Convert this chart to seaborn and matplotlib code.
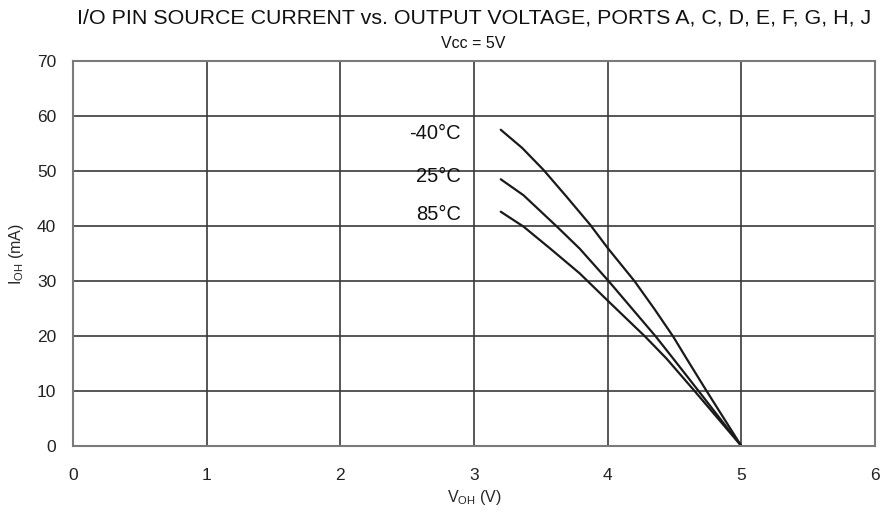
import matplotlib
matplotlib.use("Agg")
import matplotlib.pyplot as plt
import seaborn as sns
import pandas as pd

# Source current (mA) vs. output voltage (V) at three temperatures
v_m40 = [3.20, 3.36, 3.52, 3.69, 3.87, 4.00, 4.20, 4.35, 4.49, 4.59, 4.74, 5.00]
i_m40 = [57.5, 54.2, 50.2, 45.4, 40.2, 36.0, 30.0, 24.9, 19.9, 15.9, 10.0, 0.0]
v_25 = [3.20, 3.37, 3.62, 3.79, 4.01, 4.36, 4.49, 4.68, 5.00]
i_25 = [48.5, 45.6, 39.9, 35.9, 29.9, 19.9, 15.9, 10.0, 0.0]
v_85 = [3.20, 3.37, 3.57, 3.79, 4.01, 4.28, 4.44, 4.65, 5.00]
i_85 = [42.6, 39.9, 35.9, 31.4, 26.2, 19.9, 15.9, 10.0, 0.0]
temps = ["-40°C", "25°C", "85°C"]
label_y = [56.8, 49.0, 42.1]

x_ticks = [0, 1, 2, 3, 4, 5, 6]
y_ticks = [0, 10, 20, 30, 40, 50, 60, 70]

frames = []
for t, v, i in zip(temps, [v_m40, v_25, v_85], [i_m40, i_25, i_85]):
    frames.append(pd.DataFrame({"V": v, "I": i, "T": t}))
df = pd.concat(frames, ignore_index=True)

sns.set_style("white")
plt.rcParams["font.family"] = ["Liberation Sans", "DejaVu Sans"]

fig = plt.figure(figsize=(8.87, 5.18), dpi=100)
ax = fig.add_axes([0.0823, 0.139, 0.9042, 0.7432])

sns.lineplot(data=df, x="V", y="I", units="T", estimator=None, sort=False,
             color="#1a1a1a", linewidth=1.6, ax=ax)

ax.set_xlim(0, 6)
ax.set_ylim(0, 70)
ax.set_xticks(x_ticks)
ax.set_yticks(y_ticks)
ax.tick_params(axis="y", length=0, labelsize=12.5, colors="#222222", pad=12)
ax.tick_params(axis="x", length=0, labelsize=12.5, colors="#222222", pad=15.5)
ax.grid(True, color="#3a3a3a", linewidth=1.2)
for s in ax.spines.values():
    s.set_color("#7a7a7a")
    s.set_linewidth(1.5)

ax.set_xlabel("V$_{\\mathregular{OH}}$ (V)", fontsize=11.5, labelpad=4)
ax.set_ylabel("I$_{\\mathregular{OH}}$ (mA)", fontsize=11.5, labelpad=8)

# Temperature labels beside the start of each curve
for t, y in zip(temps, label_y):
    ax.text(2.9, y, t, ha="right", va="center", fontsize=14.5, color="#111111")

fig.text(0.535, 0.955, "I/O PIN SOURCE CURRENT vs. OUTPUT VOLTAGE, PORTS A, C, D, E, F, G, H, J",
         ha="center", va="baseline", fontsize=15.4, color="#111111")
fig.text(0.534, 0.907, "Vcc = 5V", ha="center", va="baseline", fontsize=11.5, color="#111111")

fig.savefig("out.png", dpi=100)
